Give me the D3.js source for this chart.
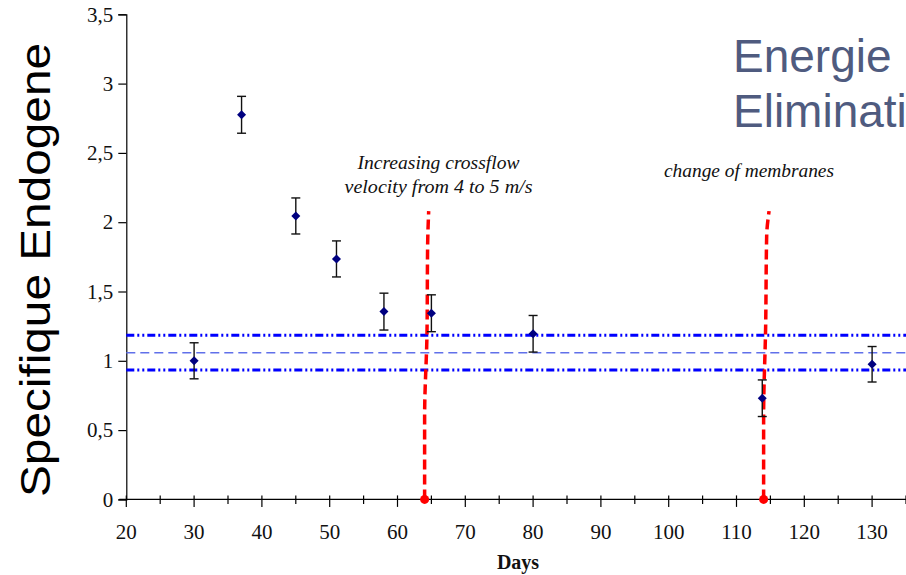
<!DOCTYPE html>
<html>
<head>
<meta charset="utf-8">
<script src="https://cdn.jsdelivr.net/npm/d3@7"></script>
<style>
  html, body { margin: 0; padding: 0; background: #fff; }
  svg { display: block; }
</style>
</head>
<body>
<svg id="chart" width="906" height="575"></svg>
<script>
// ---- data ----
const days = [30, 37, 45, 51, 58, 65, 80, 113.8, 130];
const values = [1.0, 2.775, 2.045, 1.735, 1.355, 1.343, 1.195, 0.73, 0.975];
const errors = [0.13, 0.133, 0.13, 0.13, 0.133, 0.133, 0.132, 0.132, 0.128];

const meanLevel = 1.058;
const bandLevels = [1.185, 0.933];

// red event markers (hand-drawn, slightly slanted dashed lines)
const event1Days = [64, 64, 64.35, 64.45, 64.6];
const event1Vals = [0, 0.6, 1.2, 1.85, 2.08];
const event2Days = [114, 114, 114.3, 114.45, 114.8];
const event2Vals = [0, 0.6, 1.25, 1.9, 2.08];

const xTicks = [20, 30, 40, 50, 60, 70, 80, 90, 100, 110, 120, 130];
const xMinorTicks = d3.range(20, 136, 5);
const yTicks = [0, 0.5, 1, 1.5, 2, 2.5, 3, 3.5];

const annotation1 = ["Increasing crossflow", "velocity from 4 to 5 m/s"];
const annotation2 = "change of membranes";
const yLabel = "Specifique Endogene";
const titleLines = ["Energie", "Eliminati"];
const xLabel = "Days";

// ---- layout ----
const svg = d3.select("#chart");
svg.append("rect").attr("width", 906).attr("height", 575).attr("fill", "#fff");

const x = d3.scaleLinear().domain([20, 135]).range([126.3, 906]);
const y = d3.scaleLinear().domain([0, 3.5]).range([499.4, 14.3]);

const serif = "'Liberation Serif', 'Times New Roman', serif";

// ---- y axis ----
const yAxis = svg.append("g").attr("transform", `translate(${x(20)},0)`)
  .call(d3.axisLeft(y).tickValues(yTicks).tickSize(8).tickPadding(5)
    .tickFormat(d => d3.format("")(d).replace(".", ",")));
yAxis.select(".domain").attr("stroke", "#000").attr("stroke-width", 1.2);
yAxis.selectAll(".tick line").attr("stroke", "#000").attr("stroke-width", 1.2);
yAxis.selectAll("text").attr("font-family", serif).attr("font-size", 21).attr("fill", "#111");

// ---- x axis ----
const xg = svg.append("g");
xg.append("line").attr("x1", x(20) - 7).attr("x2", 906)
  .attr("y1", y(0)).attr("y2", y(0)).attr("stroke", "#000").attr("stroke-width", 1.2);
xg.selectAll("line.tk").data(xMinorTicks).enter().append("line")
  .attr("class", "tk")
  .attr("x1", d => x(d)).attr("x2", d => x(d))
  .attr("y1", y(0) - 4).attr("y2", d => y(0) + (d % 10 === 0 ? 7.5 : 4.5))
  .attr("stroke", "#000").attr("stroke-width", 1.2);
xg.selectAll("text").data(xTicks).enter().append("text")
  .attr("x", d => x(d)).attr("y", 539)
  .attr("text-anchor", "middle")
  .attr("font-family", serif).attr("font-size", 21).attr("fill", "#111")
  .text(d => d);
svg.append("text").attr("x", 518).attr("y", 569).attr("text-anchor", "middle")
  .attr("font-family", serif).attr("font-size", 20).attr("font-weight", "bold")
  .attr("fill", "#111").text(xLabel);

// ---- horizontal reference lines ----
svg.selectAll("line.band").data(bandLevels).enter().append("line")
  .attr("class", "band")
  .attr("x1", x(20)).attr("x2", 906)
  .attr("y1", d => y(d)).attr("y2", d => y(d))
  .attr("stroke", "#0000ff").attr("stroke-width", 3)
  .attr("stroke-dasharray", "8,3,2,3,2,3");
svg.append("line")
  .attr("x1", x(20)).attr("x2", 906)
  .attr("y1", y(meanLevel)).attr("y2", y(meanLevel))
  .attr("stroke", "#6070ea").attr("stroke-width", 1.5)
  .attr("stroke-dasharray", "9,5");

// ---- red event lines ----
const redLine = d3.line().x(d => x(d[0])).y(d => y(d[1])).curve(d3.curveMonotoneY);
[[event1Days, event1Vals], [event2Days, event2Vals]].forEach(([dd, vv]) => {
  const pts = dd.map((d, i) => [d, vv[i]]);
  svg.append("path").datum(pts).attr("d", redLine)
    .attr("fill", "none").attr("stroke", "#ff0000").attr("stroke-width", 3.5)
    .attr("stroke-dasharray", "10,5");
  svg.append("circle").attr("cx", x(dd[0])).attr("cy", y(vv[0])).attr("r", 4.5).attr("fill", "#ff0000");
});

// ---- error bars + points ----
const pts = svg.append("g");
days.forEach((d, i) => {
  const cx = x(d), v = values[i], e = errors[i];
  pts.append("line").attr("x1", cx).attr("x2", cx).attr("y1", y(v + e)).attr("y2", y(v - e))
    .attr("stroke", "#111").attr("stroke-width", 1.4);
  [v + e, v - e].forEach(w => {
    pts.append("line").attr("x1", cx - 4.5).attr("x2", cx + 4.5).attr("y1", y(w)).attr("y2", y(w))
      .attr("stroke", "#111").attr("stroke-width", 1.4);
  });
});
pts.selectAll("path.pt").data(days).enter().append("path")
  .attr("class", "pt")
  .attr("d", d3.symbol(d3.symbolDiamond2, 52))
  .attr("transform", (d, i) => `translate(${x(d)},${y(values[i])})`)
  .attr("fill", "#000080");

// ---- annotations ----
const annLen1 = [162, 188];
annotation1.forEach((t, i) => {
  svg.append("text").attr("x", 438.5).attr("y", 169 + i * 24).attr("text-anchor", "middle")
    .attr("font-family", serif).attr("font-style", "italic").attr("font-size", 18)
    .attr("textLength", annLen1[i]).attr("lengthAdjust", "spacingAndGlyphs")
    .attr("fill", "#111").text(t);
});
svg.append("text").attr("x", 749).attr("y", 177).attr("text-anchor", "middle")
  .attr("font-family", serif).attr("font-style", "italic").attr("font-size", 18)
  .attr("textLength", 170).attr("lengthAdjust", "spacingAndGlyphs")
  .attr("fill", "#111").text(annotation2);

// ---- big y label ----
svg.append("text")
  .attr("transform", "translate(50,270) rotate(-90)")
  .attr("text-anchor", "middle")
  .attr("font-family", "'Liberation Sans', Arial, sans-serif")
  .attr("font-size", 43)
  .attr("textLength", 454).attr("lengthAdjust", "spacingAndGlyphs")
  .attr("fill", "#000").text(yLabel);

// ---- clipped title on the right ----
titleLines.forEach((t, i) => {
  svg.append("text").attr("x", 733).attr("y", 72 + i * 55)
    .attr("font-family", "'Liberation Sans', Arial, sans-serif")
    .attr("font-size", 46).attr("fill", "#4f5b7f").text(t);
});
</script>
</body>
</html>
